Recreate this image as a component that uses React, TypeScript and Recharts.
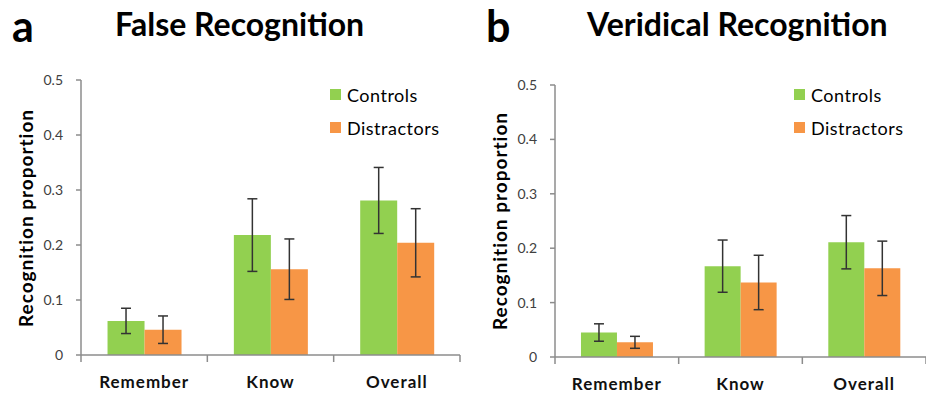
import React from 'react';
import { BarChart, Bar, XAxis, YAxis, ErrorBar, Legend } from 'recharts';

const categories = ['Remember', 'Know', 'Overall'];
const yTicks = [0, 0.1, 0.2, 0.3, 0.4, 0.5];
const seriesNames = ['Controls', 'Distractors'];

const falseControls = [0.062, 0.218, 0.281];
const falseControlsErr = [0.023, 0.066, 0.06];
const falseDistractors = [0.046, 0.156, 0.204];
const falseDistractorsErr = [0.025, 0.055, 0.062];

const verControls = [0.045, 0.167, 0.211];
const verControlsErr = [0.016, 0.048, 0.049];
const verDistractors = [0.027, 0.137, 0.163];
const verDistractorsErr = [0.011, 0.05, 0.05];

const GREEN = '#92D050';
const ORANGE = '#F79646';
const AXIS = '#8c8c8c';
const FONT = 'Lato, "Open Sans", sans-serif';

const buildData = (c: number[], ce: number[], d: number[], de: number[]) =>
  categories.map((name, i) => ({ name, c: c[i], ce: ce[i], d: d[i], de: de[i] }));

const falseData = buildData(falseControls, falseControlsErr, falseDistractors, falseDistractorsErr);
const verData = buildData(verControls, verControlsErr, verDistractors, verDistractorsErr);

const XTick = (props: any) => {
  const { x, y, payload, index } = props;
  const half = payload && typeof payload.offset === 'number' ? payload.offset : 0;
  const last = index === categories.length - 1;
  return (
    <g>
      <line x1={x - half} x2={x - half} y1={y} y2={y + 7} stroke={AXIS} strokeWidth={1.5} />
      {last && <line x1={x + half} x2={x + half} y1={y} y2={y + 7} stroke={AXIS} strokeWidth={1.5} />}
      <text
        x={x}
        y={y + 33}
        textAnchor="middle"
        fontFamily={FONT}
        fontWeight={700}
        fontSize={17}
        letterSpacing={1}
        fill="#111"
      >
        {payload.value}
      </text>
    </g>
  );
};

const renderLegend = (props: any) => {
  const { payload } = props;
  return (
    <div style={{ fontFamily: FONT }}>
      {(payload || []).map((e: any) => (
        <div key={e.value} style={{ display: 'flex', alignItems: 'center', height: 33 }}>
          <span style={{ width: 11, height: 11, background: e.color, marginRight: 6, display: 'inline-block' }} />
          <span style={{ fontSize: 18, color: '#000', letterSpacing: 0.5 }}>{e.value}</span>
        </div>
      ))}
    </div>
  );
};

type PanelProps = {
  data: any[];
  left: number;
  width: number;
  margin: { top: number; right: number; bottom: number; left: number };
  yAxisWidth: number;
  legendLeft: number;
  legendTop: number;
};

const Panel = ({ data, left, width, margin, yAxisWidth, legendLeft, legendTop }: PanelProps) => (
  <div style={{ position: 'absolute', left, top: 0 }}>
    <BarChart
      width={width}
      height={396}
      data={data}
      margin={margin}
      barCategoryGap="21%"
      barGap={0}
    >
      <XAxis
        dataKey="name"
        height={35}
        tickLine={false}
        tickSize={0}
        tickMargin={0}
        axisLine={{ stroke: AXIS, strokeWidth: 1.5 }}
        tick={<XTick />}
        interval={0}
      />
      <YAxis
        width={yAxisWidth}
        domain={[0, 0.5]}
        ticks={yTicks}
        tickSize={5}
        tickMargin={13}
        tickFormatter={(v: number) => (v === 0 ? '0' : v.toFixed(1))}
        tick={{ fill: '#404040', fontSize: 14, fontFamily: FONT }}
        tickLine={{ stroke: AXIS, strokeWidth: 1.5 }}
        axisLine={{ stroke: AXIS, strokeWidth: 1.5 }}
        allowDataOverflow
      />
      <Legend
        layout="vertical"
        align="center"
        verticalAlign="middle"
        content={renderLegend}
        wrapperStyle={{ left: legendLeft, top: legendTop, width: 'auto', height: 'auto' }}
      />
      <Bar dataKey="c" name={seriesNames[0]} fill={GREEN} isAnimationActive={false}>
        <ErrorBar dataKey="ce" width={5} stroke="#333" strokeWidth={1.5} />
      </Bar>
      <Bar dataKey="d" name={seriesNames[1]} fill={ORANGE} isAnimationActive={false}>
        <ErrorBar dataKey="de" width={5} stroke="#333" strokeWidth={1.5} />
      </Bar>
    </BarChart>
  </div>
);

export default function App() {
  return (
    <div
      style={{
        position: 'absolute',
        left: 0,
        top: 0,
        width: 926,
        height: 396,
        background: '#fff',
        overflow: 'hidden',
        fontFamily: FONT,
      }}
    >
      <Panel
        data={falseData}
        left={0}
        width={463}
        margin={{ top: 80, right: 3, bottom: 6, left: 0 }}
        yAxisWidth={81}
        legendLeft={330}
        legendTop={78}
      />
      <Panel
        data={verData}
        left={463}
        width={463}
        margin={{ top: 85, right: 0, bottom: 4, left: 0 }}
        yAxisWidth={92}
        legendLeft={331}
        legendTop={78}
      />
      <svg
        width={926}
        height={396}
        style={{ position: 'absolute', left: 0, top: 0, pointerEvents: 'none' }}
      >
        <g fontFamily={FONT} fontWeight={700} fill="#000">
          <text x={12} y={42} fontSize={43}>a</text>
          <text x={115} y={36} fontSize={32}>False Recognition</text>
          <text x={486} y={42} fontSize={43}>b</text>
          <text x={587} y={36} fontSize={32}>Veridical Recognition</text>
          <text
            x={33}
            y={218}
            fontSize={19}
            letterSpacing={1}
            textAnchor="middle"
            transform="rotate(-90 33 218)"
          >
            Recognition proportion
          </text>
          <text
            x={507}
            y={221}
            fontSize={19}
            letterSpacing={1}
            textAnchor="middle"
            transform="rotate(-90 507 221)"
          >
            Recognition proportion
          </text>
        </g>
      </svg>
    </div>
  );
}
